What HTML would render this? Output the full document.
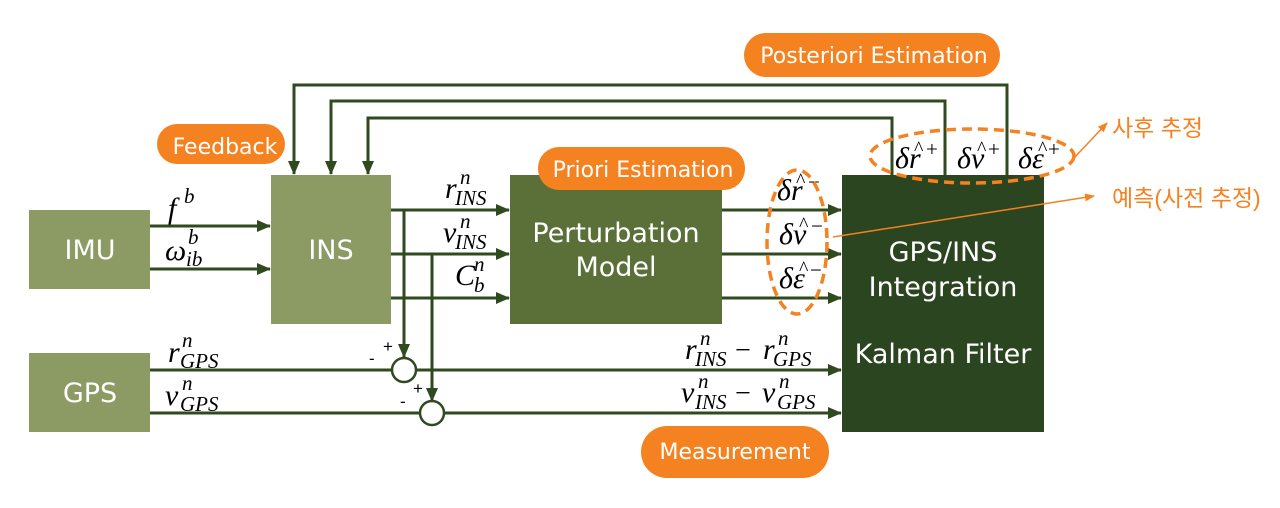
<!DOCTYPE html>
<html><head><meta charset="utf-8"><style>
html,body{margin:0;padding:0;background:#fff;}
svg{display:block;}
.m{font-family:"Liberation Serif",serif;font-style:italic;fill:#000;font-size:30px;}
.s{font-family:"Liberation Serif",serif;font-style:italic;fill:#000;font-size:21px;}
.n{font-family:"Liberation Serif",serif;fill:#000;font-size:21px;}
.h{font-family:"Liberation Serif",serif;fill:#000;font-size:20px;}
.b{font-family:"DejaVu Sans","Liberation Sans",sans-serif;fill:#fff;}
.k{font-family:"Liberation Sans","Noto Sans CJK KR",sans-serif;fill:#f58220;font-size:23px;}
</style></head><body>
<svg width="1280" height="508" viewBox="0 0 1280 508" xmlns="http://www.w3.org/2000/svg">
<defs>
<marker id="a" markerWidth="14" markerHeight="12" refX="13" refY="6" orient="auto" markerUnits="userSpaceOnUse"><path d="M0,0 L14,6 L0,12 z" fill="#2f4a1e"/></marker>
<marker id="o" markerWidth="10" markerHeight="10" refX="9" refY="5" orient="auto" markerUnits="userSpaceOnUse"><path d="M0,1 L10,5 L0,9 z" fill="#f58220"/></marker>
</defs>
<rect x="29" y="210" width="121" height="79" fill="#8c9a64"/>
<rect x="271" y="175" width="120" height="149" fill="#8c9a64"/>
<rect x="29" y="353" width="121" height="79" fill="#8c9a64"/>
<rect x="510" y="175" width="212" height="149" fill="#5b7039"/>
<rect x="842" y="175" width="202" height="257" fill="#2c4521"/>
<g class="b" font-size="27" text-anchor="middle">
<text x="90" y="259">IMU</text>
<text x="331" y="259">INS</text>
<text x="90" y="402">GPS</text>
<text x="616" y="242">Perturbation</text>
<text x="616" y="276">Model</text>
<text x="943" y="261">GPS/INS</text>
<text x="943" y="296">Integration</text>
<text x="943" y="363">Kalman Filter</text>
</g>
<g stroke="#2f4a1e" stroke-width="3" fill="none">
<line x1="150" y1="226" x2="270" y2="226" marker-end="url(#a)"/>
<line x1="150" y1="269" x2="270" y2="269" marker-end="url(#a)"/>
<line x1="391" y1="210" x2="509" y2="210" marker-end="url(#a)"/>
<line x1="391" y1="254" x2="509" y2="254" marker-end="url(#a)"/>
<line x1="391" y1="298" x2="509" y2="298" marker-end="url(#a)"/>
<line x1="722" y1="210" x2="841" y2="210" marker-end="url(#a)"/>
<line x1="722" y1="254" x2="841" y2="254" marker-end="url(#a)"/>
<line x1="722" y1="298" x2="841" y2="298" marker-end="url(#a)"/>
<line x1="150" y1="370" x2="392" y2="370"/>
<line x1="416" y1="370" x2="841" y2="370" marker-end="url(#a)"/>
<line x1="150" y1="413" x2="420" y2="413"/>
<line x1="444" y1="413" x2="841" y2="413" marker-end="url(#a)"/>
<polyline points="404,210 404,357" marker-end="url(#a)"/>
<polyline points="432,254 432,401" marker-end="url(#a)"/>
<circle cx="404" cy="370" r="12" stroke-width="2.5" fill="#fff"/>
<circle cx="432" cy="413" r="12" stroke-width="2.5" fill="#fff"/>
<polyline points="1007,175 1007,85 294,85 294,174" marker-end="url(#a)"/>
<polyline points="945,175 945,101 331,101 331,174" marker-end="url(#a)"/>
<polyline points="892,175 892,118 368,118 368,174" marker-end="url(#a)"/>
</g>
<g font-family="Liberation Sans,sans-serif" font-size="17" fill="#000">
<text x="383" y="352">+</text><text x="369" y="364">-</text>
<text x="413" y="394">+</text><text x="400" y="407">-</text>
</g>
<text class="m" x="168" y="218">f</text><text class="s" x="184" y="203">b</text>
<text class="m" x="165" y="260">ω</text><text class="s" x="188" y="244">b</text><text class="s" x="186" y="266">ib</text>
<text class="m" x="168" y="362">r</text><text class="s" x="182" y="347">n</text><text class="s" x="180" y="368">GPS</text>
<text class="m" x="165" y="405">ν</text><text class="s" x="182" y="390">n</text><text class="s" x="180" y="411">GPS</text>
<text class="m" x="445" y="198">r</text><text class="s" x="460" y="184">n</text><text class="s" x="455" y="205">INS</text>
<text class="m" x="443" y="242">ν</text><text class="s" x="460" y="228">n</text><text class="s" x="455" y="249">INS</text>
<text class="m" x="455" y="285">C</text><text class="s" x="474" y="271">n</text><text class="s" x="474" y="292">b</text>
<text class="m" x="685" y="359">r</text><text class="s" x="700" y="345">n</text><text class="s" x="695" y="366">INS</text>
<text class="n" x="735" y="359" style="font-size:28px">−</text>
<text class="m" x="763" y="359">r</text><text class="s" x="778" y="345">n</text><text class="s" x="773" y="366">GPS</text>
<text class="m" x="681" y="402">ν</text><text class="s" x="698" y="388">n</text><text class="s" x="695" y="409">INS</text>
<text class="n" x="735" y="402" style="font-size:28px">−</text>
<text class="m" x="762" y="402">ν</text><text class="s" x="779" y="388">n</text><text class="s" x="777" y="409">GPS</text>
<g>
<text class="m" x="777" y="200">δr</text><text class="h" x="796" y="187">^</text><text class="n" x="808" y="189">−</text>
<text class="m" x="779" y="244">δν</text><text class="h" x="799" y="231">^</text><text class="n" x="811" y="233">−</text>
<text class="m" x="779" y="288">δε</text><text class="h" x="799" y="275">^</text><text class="n" x="810" y="277">−</text>
<text class="m" x="895" y="168">δr</text><text class="h" x="914" y="155">^</text><text class="n" x="926" y="156">+</text>
<text class="m" x="957" y="168">δν</text><text class="h" x="977" y="155">^</text><text class="n" x="988" y="156">+</text>
<text class="m" x="1018" y="168">δε</text><text class="h" x="1038" y="155">^</text><text class="n" x="1048" y="156">+</text>
</g>
<g stroke="#f58220" stroke-width="3.5" fill="none" stroke-dasharray="10,6">
<ellipse cx="797" cy="242" rx="30" ry="72"/>
<ellipse cx="972" cy="156" rx="102" ry="27"/>
</g>
<line x1="833" y1="237" x2="1094" y2="196" stroke="#f58220" stroke-width="1.5" marker-end="url(#o)"/>
<line x1="1074" y1="158" x2="1107" y2="123" stroke="#f58220" stroke-width="1.5" marker-end="url(#o)"/>
<text class="k" x="1112" y="136">사후 추정</text>
<text class="k" x="1112" y="206">예측(사전 추정)</text>
<g class="b" font-size="22" text-anchor="middle">
<rect x="744" y="33" width="256" height="44" rx="22" fill="#f58220"/>
<text x="874" y="63">Posteriori Estimation</text>
<rect x="157" y="124" width="128" height="40" rx="20" fill="#f58220"/>
<text x="225" y="154">Feedback</text>
<rect x="538" y="147" width="207" height="43" rx="21" fill="#f58220"/>
<text x="643" y="177">Priori Estimation</text>
<rect x="641" y="426" width="188" height="52" rx="26" fill="#f58220"/>
<text x="735" y="459">Measurement</text>
</g>
</svg>
</body></html>
